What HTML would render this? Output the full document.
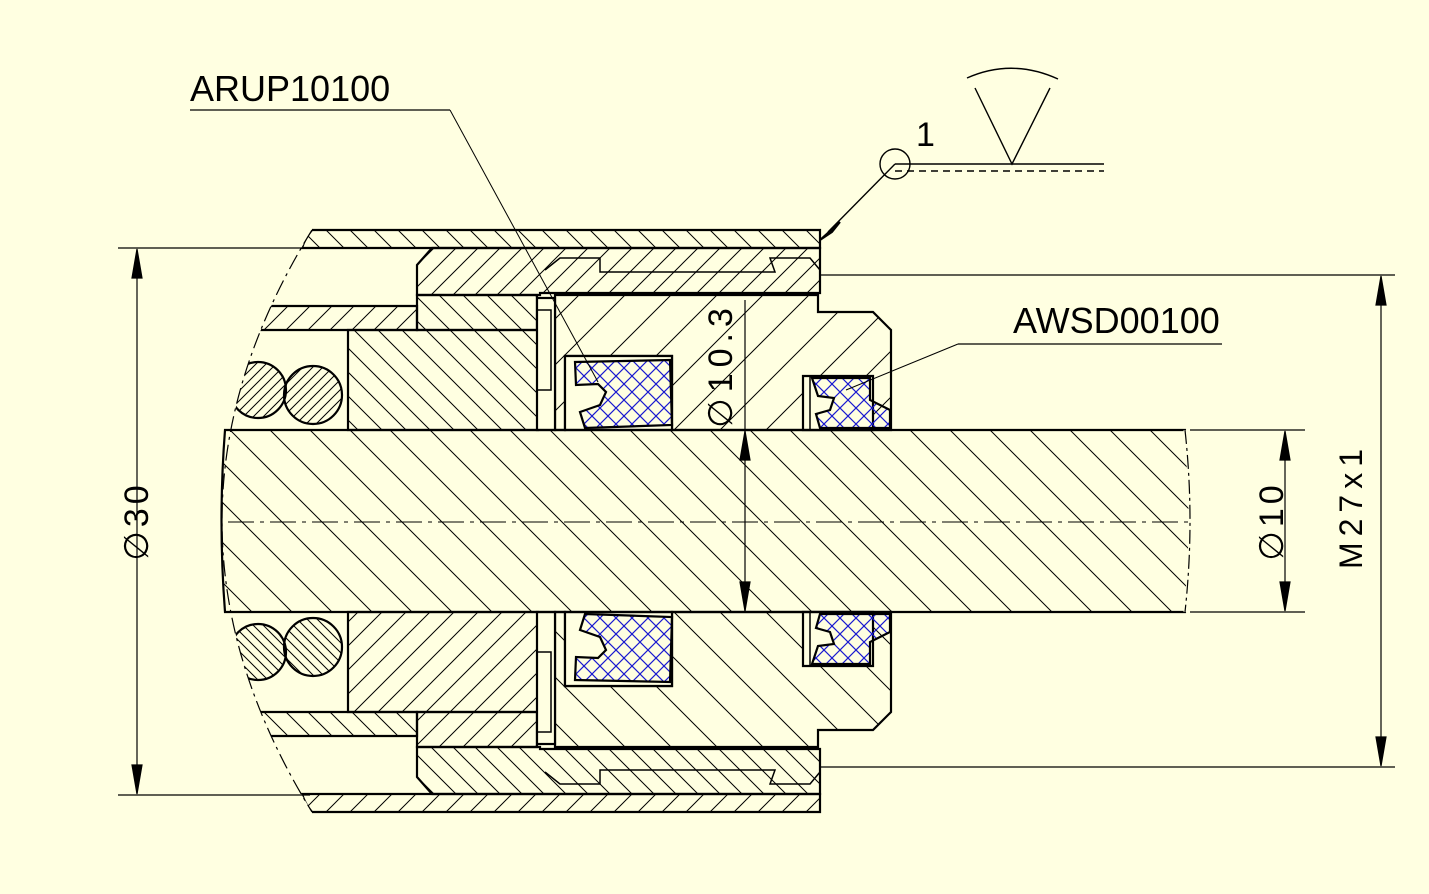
<!DOCTYPE html>
<html><head><meta charset="utf-8"><style>
html,body{margin:0;padding:0;background:#FFFFE1;}
svg{display:block}
text{font-family:"Liberation Sans",sans-serif;fill:#000}
</style></head><body>
<svg width="1429" height="894" viewBox="0 0 1429 894" xmlns="http://www.w3.org/2000/svg">
<defs>
<pattern id="hb" patternUnits="userSpaceOnUse" width="40" height="40"><path d="M-10,-10 L50,50 M-10,30 L10,50 M30,-10 L50,10" stroke="#000" stroke-width="1"/></pattern>
<pattern id="hb2" patternUnits="userSpaceOnUse" width="24" height="24"><path d="M-6,-6 L30,30 M-6,18 L6,30 M18,-6 L30,6" stroke="#000" stroke-width="1"/></pattern>
<pattern id="hf" patternUnits="userSpaceOnUse" width="22" height="22"><path d="M-6,28 L28,-6 M-6,6 L6,-6 M16,28 L28,16" stroke="#000" stroke-width="1"/></pattern>
<pattern id="hf2" patternUnits="userSpaceOnUse" width="46" height="46"><path d="M-6,52 L52,-6 M-6,6 L6,-6 M40,52 L52,40" stroke="#000" stroke-width="1"/></pattern>
<pattern id="hs" patternUnits="userSpaceOnUse" width="10" height="10"><path d="M-3,13 L13,-3 M-3,3 L3,-3 M7,13 L13,7" stroke="#000" stroke-width="1"/></pattern>
<pattern id="bx" patternUnits="userSpaceOnUse" width="16" height="16"><path d="M0,0 L16,16 M16,0 L0,16" stroke="#1a1ad0" stroke-width="1.2"/></pattern>
<g id="half" stroke="#000" stroke-width="2.2">
  <path d="M302,248 Q305,238 312,230 L820,230 L820,248 Z" fill="url(#hb2)"/>
  <path d="M417,265 L432,248 L820,248 L820,293 L540,293 L540,295 L417,295 Z" fill="url(#hf)"/>
  <path d="M545,270 L560,258 L600,258 L600,272 L775,272 L770,258 L810,258 L820,270" fill="none" stroke-width="1.5"/>
  <path d="M255,330 Q258,318 262,306 L417,306 L417,330 Z" fill="url(#hf)"/>
  <rect x="348" y="330" width="190" height="100" fill="url(#hb2)"/>
  <path d="M417,295 L537,295 L537,330 L417,330 Z" fill="url(#hb2)"/>
  <path d="M555,295 L818,295 L818,312 L873,312 L891,330 L891,430 L672,430 L672,356 L565,356 L565,430 L555,430 Z" fill="url(#hf2)"/>
  <rect x="537" y="298" width="18" height="132" fill="#FFFFE1"/>
  <rect x="537" y="310" width="14" height="80" fill="none" stroke-width="1.5"/>
  <path d="M565,356 L672,356 L672,430 L565,430 Z" fill="#FFFFE1"/>
  <path d="M575,362 L670,360 L672,425 L585,428 L580,412 L600,405 L606,392 L598,384 L576,385 Z" fill="url(#bx)"/>
  <path d="M803,376 L873,376 L873,430 L803,430 Z" fill="#FFFFE1"/>
  <path d="M812,378 L870,378 L870,400 L890,410 L890,428 L820,428 L816,414 L830,410 L834,398 L818,396 Z" fill="url(#bx)"/>
  <line x1="810" y1="376" x2="810" y2="430" stroke-width="1.5"/>
  <circle cx="313" cy="395" r="29" fill="url(#hs)"/>
  <circle cx="258" cy="390" r="28" fill="url(#hs)"/>
</g>
</defs>
<rect width="1429" height="894" fill="#FFFFE1"/>
<use href="#half"/>
<use href="#half" transform="translate(0,1042) scale(1,-1)"/>
<path d="M0,0 L312,0 L312,230 Q132,521 312,812 L312,894 L0,894 Z" fill="#FFFFE1"/>
<path d="M225,430 L1185,430 Q1195,521 1185,612 L225,612 Q218,521 225,430 Z" fill="url(#hb)" stroke="#000" stroke-width="2.2"/>
<path d="M1185,430 Q1195,521 1185,612" fill="none" stroke="#FFFFE1" stroke-width="3"/>
<path d="M1185,430 Q1195,521 1185,612" fill="none" stroke="#000" stroke-width="1.2" stroke-dasharray="14,4,3,4"/>
<path d="M312,230 Q132,521 312,812" fill="none" stroke="#000" stroke-width="1.2" stroke-dasharray="16,5,3,5"/>
<line x1="228" y1="522" x2="1190" y2="522" stroke="#000" stroke-width="1" stroke-dasharray="26,6,4,6"/>
<line x1="820" y1="275" x2="1395" y2="275" stroke="#000" stroke-width="1.2"/>
<line x1="820" y1="767" x2="1395" y2="767" stroke="#000" stroke-width="1.2"/>
<g stroke="#000" stroke-width="1.2" fill="#000">
<line x1="118" y1="248" x2="310" y2="248"/>
<line x1="118" y1="795" x2="310" y2="795"/>
<line x1="137" y1="250" x2="137" y2="793"/>
<path d="M137,249 L132,278 L142,278 Z"/><path d="M137,794 L132,765 L142,765 Z"/>
<line x1="1381" y1="277" x2="1381" y2="765"/>
<path d="M1381,276 L1376,305 L1386,305 Z"/><path d="M1381,766 L1376,737 L1386,737 Z"/>
<line x1="1190" y1="430" x2="1305" y2="430"/>
<line x1="1190" y1="612" x2="1305" y2="612"/>
<line x1="1285" y1="432" x2="1285" y2="610"/>
<path d="M1285,431 L1280,460 L1290,460 Z"/><path d="M1285,611 L1280,582 L1290,582 Z"/>
<line x1="745" y1="300" x2="745" y2="612"/>
<path d="M745,431 L740,460 L750,460 Z"/><path d="M745,611 L740,582 L750,582 Z"/>
</g>
<text transform="translate(148,521) rotate(-90)" font-size="34" text-anchor="middle" letter-spacing="4">∅30</text>
<text transform="translate(1283,521) rotate(-90)" font-size="34" text-anchor="middle" letter-spacing="4">∅10</text>
<text transform="translate(1362,506) rotate(-90)" font-size="32" text-anchor="middle" letter-spacing="6">M27x1</text>
<text transform="translate(732,365) rotate(-90)" font-size="34" text-anchor="middle" letter-spacing="6">∅10.3</text>
<text x="190" y="101" font-size="36">ARUP10100</text>
<line x1="190" y1="110" x2="450" y2="110" stroke="#000" stroke-width="1.2"/>
<line x1="450" y1="110" x2="598" y2="382" stroke="#000" stroke-width="1"/>
<text x="1013" y="333" font-size="36">AWSD00100</text>
<line x1="958" y1="344" x2="1222" y2="344" stroke="#000" stroke-width="1.2"/>
<line x1="958" y1="344" x2="846" y2="390" stroke="#000" stroke-width="1"/>
<g stroke="#000" stroke-width="1.4" fill="none">
<circle cx="895" cy="164" r="15"/>
<line x1="895" y1="164" x2="1104" y2="164"/>
<line x1="895" y1="171" x2="1104" y2="171" stroke-dasharray="7,5"/>
<path d="M975,88 L1012,164 L1050,88"/>
<path d="M967,78 Q1012,58 1058,79"/>
<line x1="895" y1="164" x2="828" y2="232"/>
</g>
<path d="M820,240 L840,222 L832,232 Z" fill="#000" stroke="#000" stroke-width="2"/>
<text x="916" y="146" font-size="34">1</text>
</svg>
</body></html>
